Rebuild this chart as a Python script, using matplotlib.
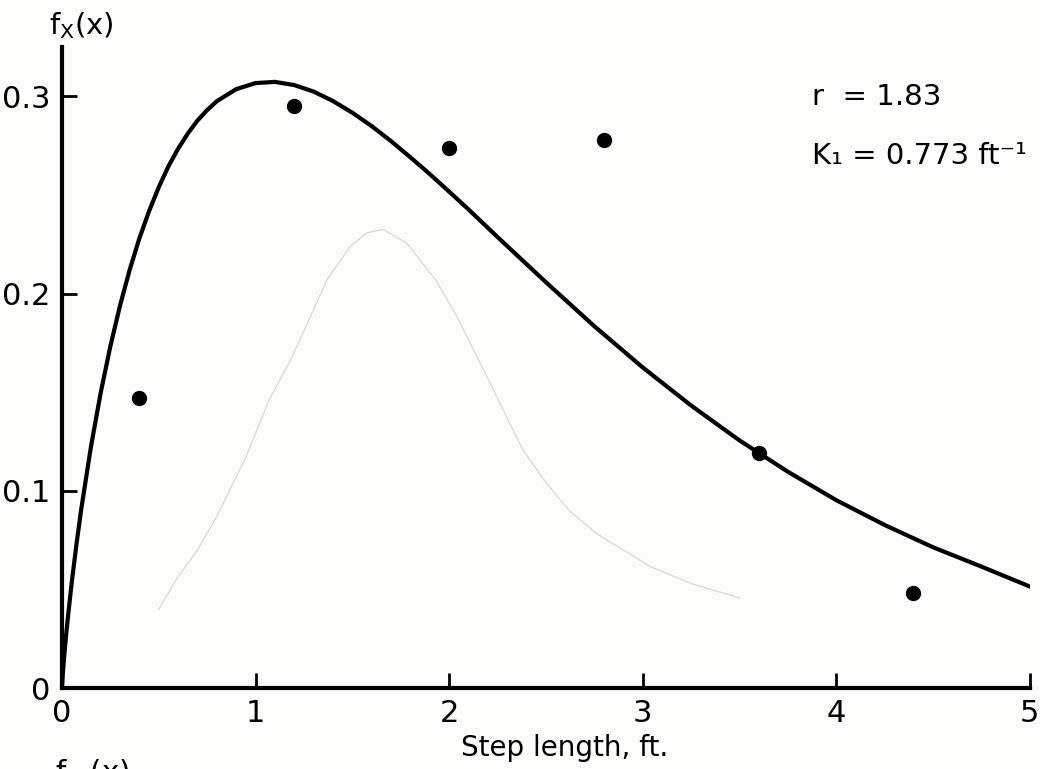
import matplotlib
matplotlib.use("Agg")
import matplotlib.pyplot as plt

# fitted gamma curve
curve_x = [0.0, 0.005, 0.01, 0.02, 0.03, 0.05, 0.075, 0.1, 0.15, 0.2, 0.25,
           0.3, 0.35, 0.4, 0.45, 0.5, 0.55, 0.6, 0.65, 0.7, 0.75, 0.8, 0.9,
           1.0, 1.1, 1.2, 1.3, 1.4, 1.5, 1.6, 1.7, 1.8, 1.9, 2.0, 2.1, 2.25,
           2.5, 2.75, 3.0, 3.25, 3.5, 3.75, 4.0, 4.25, 4.5, 4.75, 5.0]
curve_y = [0.0, 0.0082, 0.0145, 0.0255, 0.0354, 0.0532, 0.073, 0.091, 0.1225,
           0.1497, 0.1733, 0.1939, 0.2121, 0.228, 0.2418, 0.2539, 0.2645,
           0.2734, 0.2811, 0.2877, 0.293, 0.2975, 0.3036, 0.3067, 0.3073,
           0.3057, 0.3024, 0.2976, 0.2917, 0.2849, 0.2773, 0.2691, 0.2606,
           0.2517, 0.2427, 0.2287, 0.2058, 0.1835, 0.1626, 0.1433, 0.1256,
           0.1097, 0.0953, 0.0827, 0.0714, 0.0616, 0.0515]

# observed frequencies
obs_x = [0.4, 1.2, 2.0, 2.8, 3.6, 4.4]
obs_y = [0.147, 0.295, 0.274, 0.278, 0.119, 0.048]

# faint show-through curve from the other side of the page
ghost_x = [0.5, 0.59, 0.7, 0.8, 0.95, 1.07, 1.18, 1.37, 1.49, 1.58, 1.66, 1.78,
           1.93, 2.04, 2.18, 2.28, 2.38, 2.49, 2.62, 2.76, 3.04, 3.25, 3.5]
ghost_y = [0.04, 0.055, 0.07, 0.087, 0.117, 0.146, 0.166, 0.207, 0.224, 0.231,
           0.2325, 0.2257, 0.207, 0.1885, 0.161, 0.141, 0.121, 0.1056, 0.09,
           0.0785, 0.0616, 0.053, 0.0457]

x_ticks = [0, 1, 2, 3, 4, 5]
y_ticks = [0, 0.1, 0.2, 0.3]
y_tick_labels = ["0", "0.1", "0.2", "0.3"]

paper = "#fcfcfb"
fig = plt.figure(figsize=(10.4, 7.69), dpi=100, facecolor=paper)
ax = fig.add_axes([0.0596, 0.1053, 0.9304, 0.8336])
ax.set_facecolor(paper)

ax.plot(ghost_x, ghost_y, color="#d8d8d8", lw=0.9, zorder=1)
ax.plot(curve_x, curve_y, color="black", lw=3.0, solid_joinstyle="round", zorder=3)
ax.plot(obs_x, obs_y, "o", color="black", ms=10, zorder=4)

ax.set_xlim(0, 5)
ax.set_ylim(0, 0.325)
ax.set_xticks(x_ticks)
ax.set_xticklabels([str(t) for t in x_ticks])
ax.set_yticks(y_ticks)
ax.set_yticklabels(y_tick_labels)

for s in ["top", "right"]:
    ax.spines[s].set_visible(False)
for s in ["left", "bottom"]:
    ax.spines[s].set_linewidth(3.0)
ax.tick_params(direction="in", length=11, width=2, labelsize=22, pad=8)

ax.text(3.874, 0.2995, "r  = 1.83", fontsize=21, va="center", ha="left")
ax.text(3.874, 0.2695, "K\u2081 = 0.773 ft\u207b\u00b9", fontsize=21,
        va="center", ha="left")

fig.text(0.543, 0.027, "Step length, ft.", fontsize=20, ha="center", va="center")
fig.text(0.047, 0.967, r"$\mathrm{f_X(x)}$", fontsize=21, ha="left", va="center")
# label of the next figure, cut by the page edge as in the scan
fig.text(0.053, -0.016, r"$\mathrm{f_{X}\ (x)}$", fontsize=21, ha="left", va="baseline")

fig.savefig("out.png", dpi=100, facecolor=fig.get_facecolor())
